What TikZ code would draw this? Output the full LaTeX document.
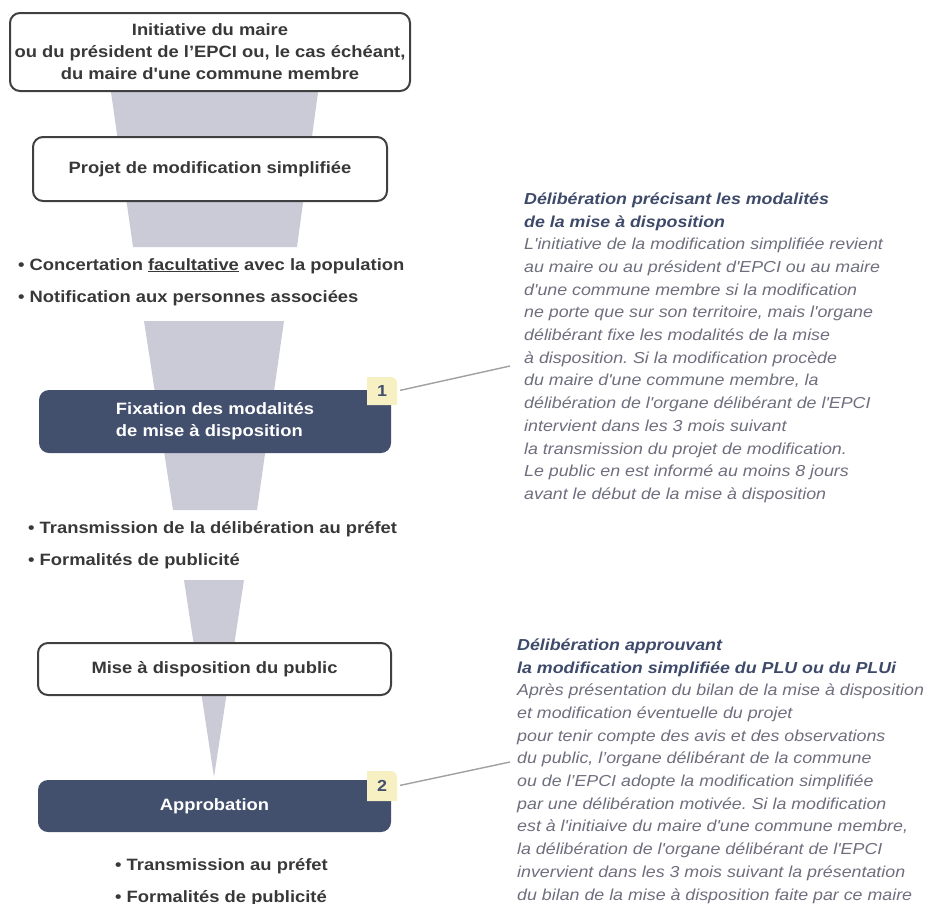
\documentclass[tikz,border=0pt]{standalone}
\usepackage{fontspec}
\setmainfont{Liberation Sans}[FakeStretch=1.12, Ligatures=TeXOff]
\frenchspacing
\definecolor{darkbox}{HTML}{424F6D}
\definecolor{funnelc}{HTML}{CACBD7}
\definecolor{badgec}{HTML}{F6F0C3}
\definecolor{titleblue}{HTML}{3E4A6A}
\definecolor{bodygray}{HTML}{6E6E7E}
\definecolor{boxtext}{HTML}{383838}
\definecolor{boxline}{HTML}{404040}
\definecolor{leaderc}{HTML}{A0A0A0}
\newcommand\ntitle[1]{{\bfseries\color{titleblue}#1}}
\begin{document}
\begin{tikzpicture}[x=1pt,y=-1pt,
  boldtxt/.style={font=\bfseries\fontsize{16.4}{22}\selectfont},
  wbox/.style={boldtxt, draw=boxline, line width=2pt, rounded corners=10pt, fill=white, text=boxtext, align=center, inner sep=0pt},
  dbox/.style={boldtxt, fill=darkbox, rounded corners=10pt, text=white, align=center, inner sep=0pt},
  bullets/.style={font=\bfseries\fontsize{16.4}{32}\selectfont, text=boxtext, align=left, inner sep=0pt, anchor=north west},
  funnel/.style={fill=funnelc},
  badgefill/.style={fill=badgec},
  badgenum/.style={font=\bfseries\fontsize{16}{18}\selectfont, text=darkbox, minimum width=30pt, minimum height=28pt, inner sep=0pt},
  leader/.style={draw=leaderc, line width=1.4pt, shorten <=3pt},
  note/.style={align=left, inner sep=0pt, anchor=north west, text=bodygray, font=\itshape\fontsize{15.9}{22.7}\selectfont}
]
\useasboundingbox (0,0) rectangle (933,903);

% funnels
\fill[funnel] (110,85) -- (319,85) -- (297,247) -- (133,247) -- cycle;
\fill[funnel] (144,321) -- (284,321) -- (257,510) -- (173,510) -- cycle;
\fill[funnel] (184,580) -- (244,580) -- (214,777) -- cycle;

% boxes
\node[wbox, minimum width=400pt, minimum height=78pt] (init) at (210,52)
  {Initiative du maire\\ou du président de l’EPCI ou, le cas échéant,\\du maire d'une commune membre};
\node[wbox, minimum width=354pt, minimum height=64pt] (projet) at (210,169)
  {Projet de modification simplifiée};
\node[bullets] (list1) at (18,258)
  {• Concertation \underline{facultative} avec la population\\• Notification aux personnes associées};
\node[dbox, minimum width=352pt, minimum height=63pt, align=left] (fix) at (215,421.5)
  {Fixation des modalités\\de mise à disposition};
\node[bullets] (list2) at (28,521)
  {• Transmission de la délibération au préfet\\• Formalités de publicité};
\node[wbox, minimum width=353pt, minimum height=52pt] (mise) at (214.5,669)
  {Mise à disposition du public};
\node[dbox, minimum width=353pt, minimum height=52pt] (appro) at (214.5,806)
  {Approbation};
\node[bullets] (list3) at (115,858)
  {• Transmission au préfet\\• Formalités de publicité};

% badges
\fill[badgefill] (367,405) -- (367,377) [rounded corners=6pt] -- (397,377) [sharp corners] -- (397,405) -- cycle;
\node[badgenum] (b1) at (382,391) {1};
\fill[badgefill] (367,801) -- (367,771) [rounded corners=6pt] -- (397,771) [sharp corners] -- (397,801) -- cycle;
\node[badgenum] (b2) at (382,786) {2};

% notes
\node[note] (n1) at (524,192.5)
  {\ntitle{Délibération précisant les modalités}\\
   \ntitle{de la mise à disposition}\\
   L'initiative de la modification simplifiée revient\\
   au maire ou au président d'EPCI ou au maire\\
   d'une commune membre si la modification\\
   ne porte que sur son territoire, mais l'organe\\
   délibérant fixe les modalités de la mise\\
   à disposition. Si la modification procède\\
   du maire d'une commune membre, la\\
   délibération de l'organe délibérant de l'EPCI\\
   intervient dans les 3 mois suivant\\
   la transmission du projet de modification.\\
   Le public en est informé au moins 8 jours\\
   avant le début de la mise à disposition};
\node[note] (n2) at (517,638.5)
  {\ntitle{Délibération approuvant}\\
   \ntitle{la modification simplifiée du PLU ou du PLUi}\\
   Après présentation du bilan de la mise à disposition\\
   et modification éventuelle du projet\\
   pour tenir compte des avis et des observations\\
   du public, l’organe délibérant de la commune\\
   ou de l’EPCI adopte la modification simplifiée\\
   par une délibération motivée. Si la modification\\
   est à l'initiaive du maire d'une commune membre,\\
   la délibération de l'organe délibérant de l'EPCI\\
   invervient dans les 3 mois suivant la présentation\\
   du bilan de la mise à disposition faite par ce maire};

% leaders
\coordinate (c1) at (510,366);
\coordinate (c2) at (510,762);
\draw[leader] (b1.east) -- (c1);
\draw[leader] (b2.east) -- (c2);
\end{tikzpicture}
\end{document}
